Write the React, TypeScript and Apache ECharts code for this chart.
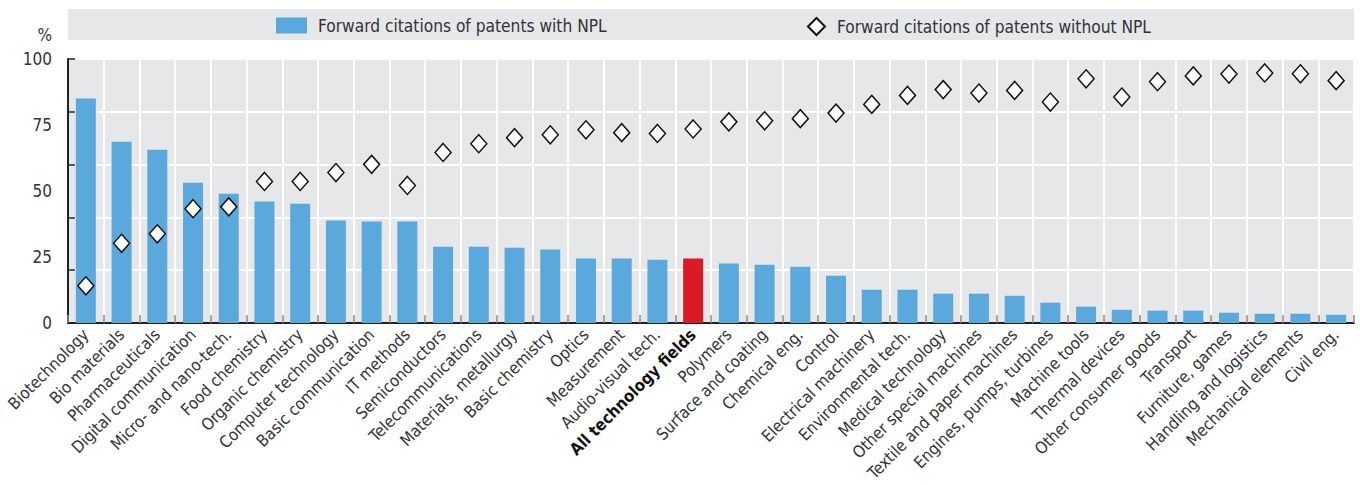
import React, { useEffect, useRef } from "react";
import * as echarts from "echarts";

const categories = [
  "Biotechnology", "Bio materials", "Pharmaceuticals", "Digital communication",
  "Micro- and nano-tech.", "Food chemistry", "Organic chemistry", "Computer technology",
  "Basic communication", "IT methods", "Semiconductors", "Telecommunications",
  "Materials, metallurgy", "Basic chemistry", "Optics", "Measurement",
  "Audio-visual tech.", "All technology fields", "Polymers", "Surface and coating",
  "Chemical eng.", "Control", "Electrical machinery", "Environmental tech.",
  "Medical technology", "Other special machines", "Textile and paper machines",
  "Engines, pumps, turbines", "Machine tools", "Thermal devices", "Other consumer goods",
  "Transport", "Furniture, games", "Handling and logistics", "Mechanical elements", "Civil eng.",
];

const withNPL = [
  85.0, 68.7, 65.6, 53.1, 49.0, 46.0, 45.2, 38.8, 38.4, 38.4, 28.9, 28.9,
  28.5, 27.8, 24.4, 24.4, 24.0, 24.4, 22.5, 22.1, 21.3, 17.9, 12.6, 12.6,
  11.1, 11.1, 10.3, 7.7, 6.2, 5.0, 4.7, 4.7, 3.9, 3.5, 3.5, 3.1,
];

const withoutNPL = [
  14.1, 30.2, 33.8, 43.3, 44.0, 53.6, 53.6, 57.0, 60.1, 52.1, 64.6, 67.9,
  70.2, 71.3, 73.2, 72.1, 71.8, 73.5, 76.2, 76.6, 77.4, 79.5, 82.8, 86.2,
  88.4, 87.1, 88.1, 83.7, 92.5, 85.6, 91.4, 93.6, 94.3, 94.7, 94.4, 91.8,
];

const highlightCategory = "All technology fields";
const seriesNames = ["Forward citations of patents with NPL", "Forward citations of patents without NPL"];
const yLabelInterval = 25;
const yGridInterval = 20;

const FONT = "'Liberation Sans Narrow', 'Arial Narrow', 'DejaVu Sans Condensed', sans-serif";
const BLUE = "#5ba8dc";
const RED = "#dc1a23";
const TEXT = "#333333";

export default function App() {
  const ref = useRef<HTMLDivElement>(null);
  useEffect(() => {
    document.body.style.margin = "0";
    if (!ref.current) return;
    const chart = echarts.init(ref.current, undefined, { renderer: "svg" });
    const option = {
      animation: false,
      textStyle: { fontFamily: FONT, color: TEXT },
      graphic: [
        { type: "rect", z: -10, shape: { x: 68, y: 9, width: 1286, height: 31 }, style: { fill: "#e6e7e9" } },
        { type: "text", x: 52, y: 35, style: { text: "%", fontFamily: FONT, fontSize: 17, fill: TEXT, align: "right", verticalAlign: "middle" } },
      ],
      legend: [
        {
          data: [{ name: seriesNames[0], icon: "rect" }],
          left: 271, top: 12, itemWidth: 31, itemHeight: 16,
          textStyle: { fontFamily: FONT, fontSize: 17.2, color: TEXT, padding: [0, 0, 0, 6] },
        },
        {
          data: [{ name: seriesNames[1], icon: "diamond" }],
          left: 802, top: 12, itemWidth: 17, itemHeight: 17,
          textStyle: { fontFamily: FONT, fontSize: 17.2, color: TEXT, padding: [0, 0, 0, 7] },
        },
      ],
      grid: {
        left: 68, right: 6, top: 59, bottom: 162, show: true, containLabel: false,
        outerBoundsMode: "none",
        backgroundColor: "#e6e7e9", borderWidth: 0,
      },
      xAxis: {
        type: "category",
        data: categories.map((c) =>
          c === highlightCategory ? { value: c, textStyle: { fontWeight: "bold", color: "#111" } } : c
        ),
        axisLine: { lineStyle: { color: "#222", width: 2 } },
        axisTick: { show: true, inside: true, length: 8, lineStyle: { color: "#888", width: 1.5 } },
        splitLine: { show: true, lineStyle: { color: "#ffffff", width: 2 } },
        axisLabel: { interval: 0, rotate: 45, fontFamily: FONT, fontSize: 16.5, color: TEXT, margin: 9 },
      },
      yAxis: [
        {
          type: "value", min: 0, max: 100, interval: yGridInterval, position: "left",
          axisLine: { show: true, lineStyle: { color: "#222", width: 2 } },
          axisTick: { show: true, inside: true, length: 7, lineStyle: { color: "#222", width: 1.5 } },
          splitLine: { show: true, lineStyle: { color: "#ffffff", width: 2 } },
          axisLabel: { show: false },
        },
        {
          type: "value", min: 0, max: 100, interval: yLabelInterval, position: "left",
          axisLine: { show: false }, axisTick: { show: false }, splitLine: { show: false },
          axisLabel: { fontFamily: FONT, fontSize: 17, color: TEXT, margin: 16 },
        },
      ],
      series: [
        {
          name: seriesNames[0], type: "bar", xAxisIndex: 0, yAxisIndex: 0, barWidth: 20,
          itemStyle: { color: BLUE },
          data: withNPL.map((v, i) =>
            categories[i] === highlightCategory ? { value: v, itemStyle: { color: RED } } : v
          ),
          z: 2,
        },
        {
          name: seriesNames[1], type: "scatter", xAxisIndex: 0, yAxisIndex: 0,
          symbol: "diamond", symbolSize: [16, 18],
          itemStyle: { color: "#ffffff", borderColor: "#111", borderWidth: 1.5, opacity: 1 },
          data: withoutNPL, z: 3,
        },
      ],
    };
    chart.setOption(option as any);
    return () => chart.dispose();
  }, []);
  return <div ref={ref} style={{ width: 1360, height: 485 }} />;
}
